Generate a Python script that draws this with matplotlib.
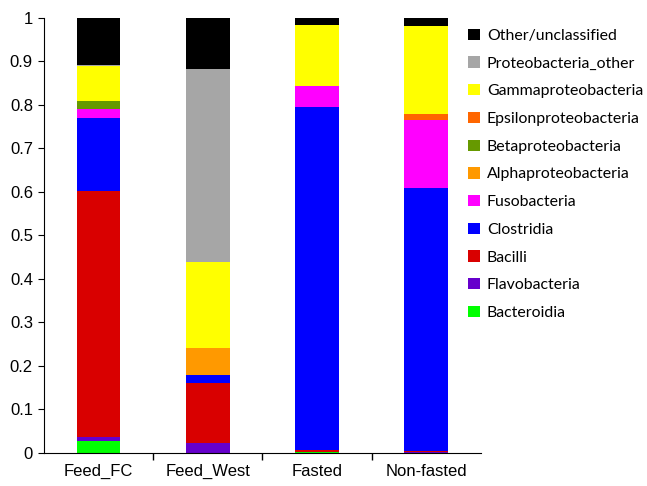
import matplotlib
matplotlib.use('Agg')
import matplotlib.pyplot as plt
import numpy as np

groups = ['Feed_FC', 'Feed_West', 'Fasted', 'Non-fasted']

# stacking order bottom -> top
taxa = ['Bacteroidia', 'Flavobacteria', 'Bacilli', 'Clostridia', 'Fusobacteria',
        'Alphaproteobacteria', 'Betaproteobacteria', 'Epsilonproteobacteria',
        'Gammaproteobacteria', 'Proteobacteria_other', 'Other/unclassified']

bacteroidia = [0.028, 0.0, 0.002, 0.0]
flavobacteria = [0.009, 0.022, 0.0, 0.002]
bacilli = [0.566, 0.139, 0.005, 0.003]
clostridia = [0.167, 0.018, 0.788, 0.603]
fusobacteria = [0.021, 0.0, 0.049, 0.158]
alphaproteo = [0.0, 0.062, 0.0, 0.0]
betaproteo = [0.018, 0.0, 0.0, 0.0]
epsilonproteo = [0.0, 0.0, 0.0, 0.013]
gammaproteo = [0.081, 0.198, 0.140, 0.203]
proteo_other = [0.002, 0.444, 0.0, 0.0]
other = [0.108, 0.117, 0.016, 0.018]

values = [bacteroidia, flavobacteria, bacilli, clostridia, fusobacteria,
          alphaproteo, betaproteo, epsilonproteo, gammaproteo, proteo_other, other]

colors = ['#00FF00', '#6600CC', '#D90000', '#0000FF', '#FF00FF',
          '#FF9900', '#669900', '#FF6600', '#FFFF00', '#A6A6A6', '#000000']

fig = plt.figure(figsize=(6.47, 4.86), dpi=100)
ax = fig.add_axes([0.068, 0.068, 0.675, 0.895])

x = np.arange(len(groups))
bottom = np.zeros(len(groups))
for name, vals, col in zip(taxa, values, colors):
    vals = np.array(vals)
    ax.bar(x, vals, 0.4, bottom=bottom, color=col, label=name, linewidth=0)
    bottom += vals

ax.set_xlim(-0.5, 3.5)
ax.set_ylim(0, 1)
ax.set_yticks(np.arange(0, 1.01, 0.1))
ax.set_yticklabels(['0', '0.1', '0.2', '0.3', '0.4', '0.5', '0.6', '0.7', '0.8', '0.9', '1'])
ax.set_xticks(x)
ax.set_xticklabels(groups)
ax.set_xticks([0.5, 1.5, 2.5], minor=True)
ax.tick_params(axis='x', which='major', length=0, pad=8, labelsize=12)
ax.tick_params(axis='x', which='minor', length=5, direction='out', width=1)
ax.tick_params(axis='y', length=4, direction='out', labelsize=12, pad=4)
for lab in ax.get_xticklabels() + ax.get_yticklabels():
    lab.set_family(['Liberation Sans', 'DejaVu Sans'])
ax.spines['top'].set_visible(False)
ax.spines['right'].set_visible(False)

handles, labels = ax.get_legend_handles_labels()
leg = fig.legend(handles[::-1], labels[::-1], loc='upper left', bbox_to_anchor=(0.724, 0.941),
                 frameon=False, borderpad=0, borderaxespad=0, handlelength=0.72, handleheight=0.72,
                 handletextpad=0.45, labelspacing=0.855, prop={'family': 'Lato', 'size': 11.4})

fig.savefig('out.png', dpi=100)
